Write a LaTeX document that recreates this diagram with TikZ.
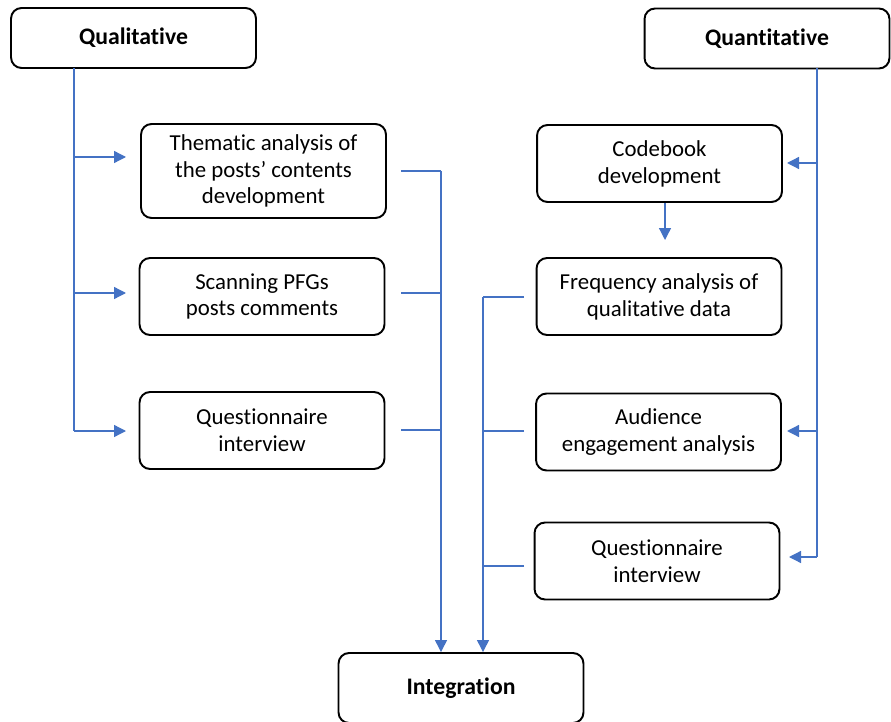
\documentclass[tikz,border=0pt]{standalone}
\usepackage{fontspec}
\setmainfont{Carlito}[Ligatures=NoCommon]
\usepackage{xcolor}
\usetikzlibrary{arrows.meta,positioning,calc}
\definecolor{lnblue}{HTML}{4472C4}

\begin{document}
\begin{tikzpicture}[
  x=0.02cm, y=-0.02cm,
  font=\fontsize{13}{15.3}\selectfont,
  box/.style={rectangle, rounded corners=6pt, draw=black, line width=1.1pt,
              minimum width=4.9cm, minimum height=1.54cm, align=center, inner sep=2pt},
  head/.style={box, minimum height=1.2cm, font=\fontsize{13.5}{15.3}\selectfont\bfseries},
  link/.style={draw=lnblue, line width=0.75pt},
  arr/.style={link, -{Triangle[length=2.4mm, width=2.4mm]}},
]
\useasboundingbox (0,0) rectangle (891,722);
% top and bottom boxes
\node[head] (qual) at (133.5,38) {Qualitative};
\node[head] (quan) at (767,38.5) {Quantitative};
\node[head, minimum height=1.4cm] (integ) at (461,688) {Integration};
% qualitative column
\node[box, minimum height=1.88cm] (them) at (263.5,171) {Thematic analysis of\\the posts’ contents\\development};
\node[box] (scan) at (262,296.5) {Scanning PFGs\\posts comments};
\node[box] (qnL) at (262,430.5) {Questionnaire\\interview};
% quantitative column
\node[box] (code) at (659.5,163.5) {Codebook\\development};
\node[box] (freq) at (659,296.5) {Frequency analysis of\\qualitative data};
\node[box] (aud) at (658.5,432) {Audience\\engagement analysis};
\node[box] (qnR) at (657,561) {Questionnaire\\interview};
% trunk points
\coordinate (qlTop) at (74,68);
\coordinate (qnTop) at (817,68);
\coordinate (inL) at (441,0);
\coordinate (inR) at (483,0);
% qualitative branches
\draw[link] (qlTop) -- (qlTop |- qnL.west);
\draw[arr] (74,157) -- (126,157);
\draw[arr] (74,293) -- (126,293);
\draw[arr] (74,431) -- (126,431);
% quantitative branches
\draw[link] (qnTop) -- (817,557);
\draw[arr] (817,163) -- (787,163);
\draw[arr] (817,431) -- (787,431);
\draw[arr] (817,557) -- (789,557);
\draw[arr] (code.south -| 665,0) -- (665,240);
% towards integration
\draw[link] (401,171) -- (441,171);
\draw[link] (401,293) -- (441,293);
\draw[link] (401,430) -- (441,430);
\draw[arr] (441,171) -- (inL |- integ.north);
\draw[link] (524,297) -- (483,297);
\draw[link] (524,431) -- (483,431);
\draw[link] (524,566) -- (483,566);
\draw[arr] (483,297) -- (inR |- integ.north);
\end{tikzpicture}
\end{document}
